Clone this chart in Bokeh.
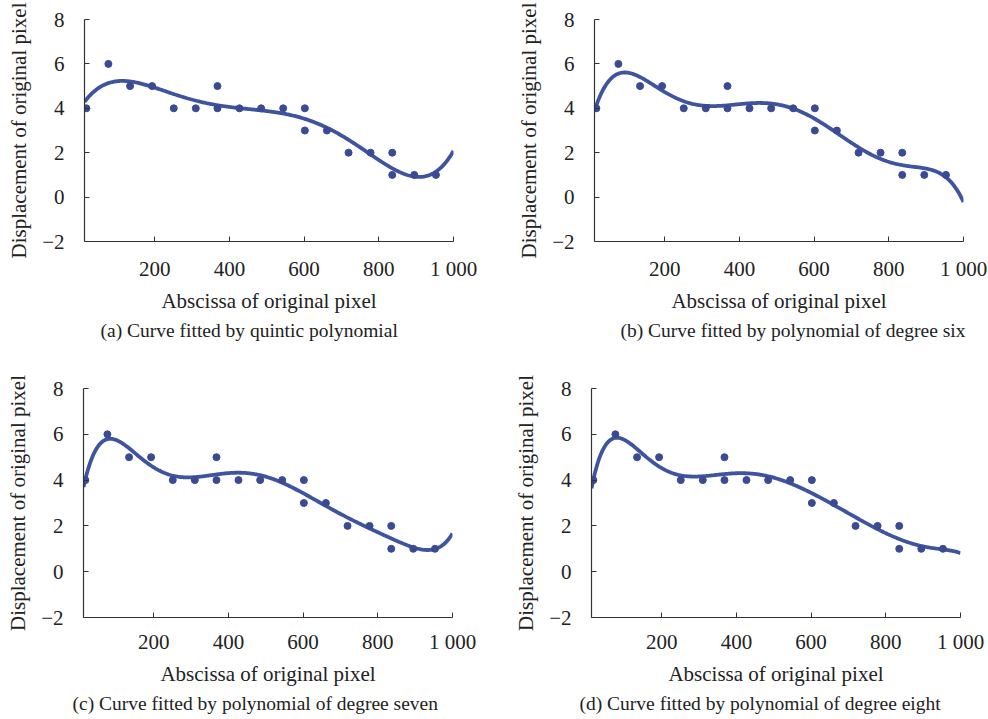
import numpy as np
from bokeh.plotting import figure
from bokeh.layouts import column, row
from bokeh.models import Range1d, FixedTicker, Title
from bokeh.embed import file_html
from bokeh.resources import INLINE

# data (same samples in every panel)
pixel_x = [17, 76, 134, 193, 251, 310, 368, 368, 427, 485, 544, 602, 602, 661, 719, 778, 836, 836, 895, 953]
displacement = [4, 6, 5, 5, 4, 4, 5, 4, 4, 4, 4, 4, 3, 3, 2, 2, 2, 1, 1, 1]
degrees = [5, 6, 7, 8]
captions = ["(a) Curve fitted by quintic polynomial",
            "(b) Curve fitted by polynomial of degree six",
            "(c) Curve fitted by polynomial of degree seven",
            "(d) Curve fitted by polynomial of degree eight"]
x_ticks = [200, 400, 600, 800, 1000]
y_ticks = [-2, 0, 2, 4, 6, 8]
x_tick_labels = {1000: "1 000"}
y_tick_labels = {-2: "\u22122"}

FONT = "Liberation Serif"
LINE_C = "#2f4596"
PT_C = "#3a4a94"
AX_C = "#333333"

# layout per panel: (width, height, left, right, top, bottom, caption offset, x label standoff)
geom = [
    (494, 358, 84, 41, 19, 115, 16, 15),
    (494, 358, 100, 25, 17, 117, 26, 15),
    (494, 360, 83, 42, 30, 101, -11, 12),
    (494, 360, 97, 28, 30, 101, -12, 12),
]

X0, X1 = 12, 1000


def panel(i):
    w, h, bl, br, bt, bb, coff, xso = geom[i]
    p = figure(width=w, height=h, output_backend="svg", toolbar_location=None,
               x_range=Range1d(X0, X1), y_range=Range1d(-2, 8),
               min_border_left=bl, min_border_right=br,
               min_border_top=bt, min_border_bottom=bb)
    p.outline_line_color = None
    p.grid.visible = False
    p.background_fill_color = "white"
    p.border_fill_color = "white"

    xs = np.array(pixel_x, dtype=float)
    ys = np.array(displacement, dtype=float)
    coef = np.polyfit(xs / 1000.0, ys, degrees[i])
    cx = np.linspace(X0, X1, 400)
    cy = np.polyval(coef, cx / 1000.0)
    p.line(cx, cy, line_color=LINE_C, line_width=3.8, line_alpha=0.92)
    p.scatter(pixel_x, displacement, size=7, color=PT_C)

    for ax in (p.xaxis[0], p.yaxis[0]):
        ax.axis_line_color = AX_C
        ax.axis_line_width = 1.2
        ax.major_tick_line_color = AX_C
        ax.major_tick_in = 5
        ax.major_tick_out = 0
        ax.minor_tick_line_color = None
        ax.major_label_text_font = FONT
        ax.major_label_text_font_size = "21px"
        ax.major_label_text_color = "#222222"
        ax.axis_label_text_font = FONT
        ax.axis_label_text_font_size = "21px"
        ax.axis_label_text_font_style = "normal"
        ax.axis_label_text_color = "#222222"

    p.xaxis.ticker = FixedTicker(ticks=x_ticks)
    p.xaxis.major_label_overrides = x_tick_labels
    p.yaxis.ticker = FixedTicker(ticks=y_ticks)
    p.yaxis.major_label_overrides = y_tick_labels
    p.xaxis.axis_label = "Abscissa of original pixel"
    p.yaxis.axis_label = "Displacement of original pixel"
    p.xaxis.major_label_standoff = xso
    p.xaxis.axis_label_standoff = 5
    p.yaxis.major_label_standoff = 20
    p.yaxis.axis_label_standoff = 8

    t = Title(text=captions[i], align="left", offset=coff,
              text_font=FONT, text_font_size="19.5px", text_font_style="normal",
              text_color="#222222", standoff=4)
    p.add_layout(t, "below")
    return p


figs = [panel(i) for i in range(4)]
layout = column(row(figs[0], figs[1]), row(figs[2], figs[3]))

with open("out.html", "w") as f:
    f.write(file_html(layout, INLINE))
